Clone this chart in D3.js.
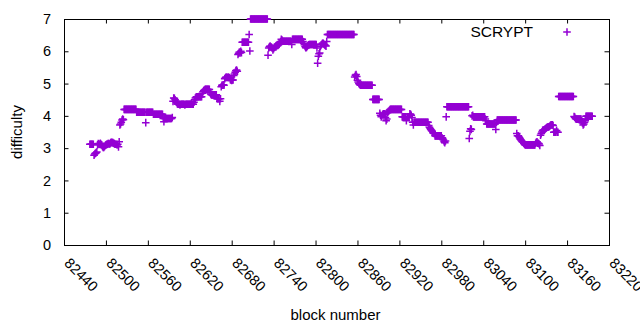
<!DOCTYPE html>
<html>
<head>
<meta charset="utf-8">
<script src="https://cdn.jsdelivr.net/npm/d3@7"></script>
<style>
  html, body { margin: 0; padding: 0; background: #fff; }
  svg { display: block; font-family: "Liberation Sans", Arial, sans-serif; }
</style>
</head>
<body>
<svg id="chart" width="640" height="330"></svg>
<script>
// ---- data (difficulty per block) ----
const seriesName = "SCRYPT";
const xTicks = [82440, 82500, 82560, 82620, 82680, 82740, 82800, 82860, 82920, 82980, 83040, 83100, 83160, 83220];
const yTicks = [0, 1, 2, 3, 4, 5, 6, 7];
const xLabel = "block number";
const yLabel = "difficulty";

// first block of each consecutive chunk
const chunkStart = [82477, 82526, 82544, 82568, 82582, 82596, 82602, 82626, 82665, 82695,
                    82707, 82732, 82754, 82767, 82782, 82802, 82817, 82856, 82864, 82882,
                    82892, 82907, 82924, 82935, 82941, 82962, 82971, 82981, 82988, 83020,
                    83026, 83043, 83060, 83088, 83100, 83115, 83122, 83141, 83148, 83170, 83187];
// difficulty of each block in the chunk
const chunkDifficulty = [
  [3.12,3.12,3.12,3.12,3.12,3.12, 2.78,2.82,2.84,2.86,2.88,
   3.10,3.14,3.12,3.12,3.15,3.12,3.10,3.05,3.02,3.02,
   3.05,3.08,3.10,3.12,3.12,3.14,3.14,3.13,3.14,3.17,3.18,3.17,3.17,3.15,3.14,3.12,3.12,3.12,3.10,3.12,3.04,3.20,
   3.72,3.75,3.80,3.87,3.90,3.88],
  [4.20,4.20,4.20,4.20,4.20,4.20,4.20,4.20,4.20,4.20,4.20,4.20,4.20,4.20,4.20,4.20,4.20,4.20],
  [4.11,4.11,4.11,4.11,4.11,4.11,4.11,4.11,4.11,4.11,4.11,4.11,4.11,3.79,4.11,4.11,4.11,4.11,4.11,4.11,4.11,4.11,4.11,4.11],
  [4.05,4.05,4.05,4.05,4.05,4.05,4.05,4.05,4.05,4.05,4.05,4.05,4.05,4.05],
  [3.92,3.82,3.92,3.92,3.92,3.92,3.92,3.92,3.92,3.92,3.92,3.92,3.92,3.95],
  [4.45,4.55,4.54,4.50,4.45,4.42],
  [4.38,4.36,4.36,4.36,4.34,4.36,4.36,4.36,4.36,4.36,4.36,4.34,4.36,4.36,4.36,4.36,4.36,4.36,4.36,4.36,4.38,4.36,4.36,4.36],
  [4.42,4.50,4.55,4.58, 4.59,4.59,4.59,4.59,4.59,4.59,4.59,4.59, 4.70,4.75,4.78,4.80,
   4.82,4.82,4.82,4.82,4.82,4.82,4.82, 4.72,4.68, 4.65,4.65,4.65,4.65,4.65,4.65,4.65,4.65,
   4.53,4.53,4.53,4.53,4.45,4.53],
  [4.90,4.95,4.95,4.96,4.95, 5.15,5.18,5.20,5.19,5.19,5.20,5.18,5.19,5.12,5.11,5.10,5.11,5.11,
   5.25,5.30,5.35,5.40,5.42,5.38, 5.90,5.94,5.98,5.95,6.00,5.96],
  [6.28,6.28,6.28,6.28,6.28,6.28,6.28,6.28,6.28,6.28, 6.52,6.01],
  [7.00,7.00,7.00,7.00,7.00,7.00,7.00,7.00,7.00,7.00,7.00,7.00,7.00,7.00,7.00,7.00,7.00,7.00,7.00,7.00,7.00,7.00,7.00,7.00,7.00],
  [5.88, 6.10,6.14,6.16,6.14,6.12,6.10,6.04,6.08,6.12,6.14,6.16,6.18,6.19,6.18,6.20,6.22, 6.25,6.30,6.37,6.35,6.32],
  [6.31,6.31,6.31,6.31,6.31,6.31,6.31,6.31,6.31,6.31,6.31,6.31,6.21],
  [6.37,6.37,6.37,6.37,6.37,6.37,6.37,6.37,6.37,6.37,6.37,6.37,6.37,6.37,6.37],
  [6.30,6.25,6.20,6.15,6.11,6.12,6.15,6.18,6.20, 6.21,6.21,6.21,6.21,6.21,6.21,6.21,6.21,6.21,6.21,6.21],
  [6.10,5.63,5.85,5.92,5.95,6.15,6.20,6.22,6.25,6.25,6.22,6.20,6.18,6.16,6.30],
  [6.52,6.52,6.52,6.52,6.52,6.52,6.52,6.52,6.52,6.52,6.52,6.52,6.52,6.52,6.52,6.52,6.52,6.52,6.52,6.52,
   6.52,6.52,6.52,6.52,6.52,6.52,6.52,6.52,6.52,6.52,6.52,6.52,6.52,6.52,6.52,6.52,6.52,6.52,6.52],
  [5.20,5.26,5.28,5.22,5.10,5.05,5.00,4.98],
  [4.95,4.95,4.95,4.95,4.95,4.95,4.95,4.95,4.95,4.95,4.95,4.95,4.95,4.95,4.95,4.95,4.95,4.95],
  [4.51,4.51,4.51,4.51,4.51,4.51,4.51,4.51,4.51,4.51],
  [4.08,4.02,3.97,4.00,4.04,4.06,4.05,4.06,3.95,3.85,3.90,4.10,4.13,4.15,4.18],
  [4.20,4.20,4.20,4.20,4.20,4.20,4.20,4.20,4.20,4.20,4.20,4.20,4.20,4.20,4.20,4.20,4.20],
  [3.97,3.97,3.97,3.97,3.97,3.97,3.85,3.97,3.97,3.97,3.97],
  [4.06,4.05,4.02,3.95,3.80,3.72],
  [3.80,3.80,3.80,3.80,3.80,3.80,3.80,3.80,3.80,3.80,3.80,3.80,3.80,3.80,3.80,3.80,3.80,3.80,3.80,3.80,3.80],
  [3.70,3.65,3.61,3.58,3.55,3.52,3.48,3.46,3.45],
  [3.38,3.38,3.38,3.38,3.38,3.38,3.38,3.38,3.38,3.38],
  [3.32,3.28,3.25,3.20,3.17,3.22,3.97],
  [4.28,4.28,4.28,4.28,4.28,4.28,4.28,4.28,4.28,4.28,4.28,4.28,4.28,4.28,4.28,4.28,
   4.28,4.28,4.28,4.28,4.28,4.28,4.28,4.28,4.28,4.28,4.28,4.28,4.28,4.28,4.28,4.28],
  [3.30,3.52,3.60,3.58,4.00,4.02],
  [3.97,3.97,3.97,3.97,3.97,3.97,3.97,3.97,3.97,3.97,3.97,3.97,3.97,3.97,3.97,3.97,3.97],
  [3.90,3.85, 3.75,3.75,3.75,3.75,3.75,3.75,3.75,3.75,3.75,3.75,3.75,3.75,3.75, 3.58,3.80],
  [3.87,3.87,3.87,3.87,3.87,3.87,3.87,3.87,3.87,3.87,3.87,3.87,3.87,3.87,
   3.87,3.87,3.87,3.87,3.87,3.87,3.87,3.87,3.87,3.87,3.87,3.87,3.87,3.87],
  [3.45,3.38,3.38,3.36,3.32,3.28,3.25,3.22,3.20,3.18,3.15,3.12],
  [3.10,3.10,3.10,3.10,3.10,3.10,3.10,3.10,3.10,3.10,3.10,3.10,3.10,3.10,3.10],
  [3.15,3.18,3.20,3.15,3.15,3.13,3.08],
  [3.40,3.45,3.50,3.55,3.56,3.56,3.58,3.60,3.62,3.64,3.65,3.66,3.66,3.68,3.70,3.72,3.72,3.72,3.70],
  [3.49,3.49,3.49,3.49,3.55,3.49,3.49],
  [4.60,4.60,4.60,4.60,4.60,4.60,4.60,4.60,4.60,4.60,4.60,4.60,4.60,4.60,4.60,4.60,4.60,4.60,4.60,4.60,4.60,4.60],
  [3.98,3.96,3.92,3.90,3.90,3.90,3.90,3.90,3.90,3.90,3.90,3.85,3.78,3.72,3.75,3.80,3.85],
  [3.99,3.99,3.99,3.99,3.99,3.99,3.99,3.99,3.99,3.99]
];

// ---- build point table ----
const points = [];
chunkStart.forEach((start, i) => {
  chunkDifficulty[i].forEach((v, j) => points.push({ block: start + j, difficulty: v }));
});

// ---- layout ----
const svg = d3.select("#chart");
const pLeft = 64, pRight = 609, pTop = 19, pBottom = 245;
const color = "#9400d3";
const tickLen = 4.5;

const x = d3.scaleLinear().domain([82440, 83220]).range([pLeft, pRight]);
const y = d3.scaleLinear().domain([0, 7]).range([pBottom, pTop]);

// axes (gnuplot style: inward ticks on all four sides)
const gx = svg.append("g").attr("transform", `translate(0,${pBottom})`)
  .call(d3.axisBottom(x).tickValues(xTicks).tickFormat(d3.format("d")).tickSizeInner(-tickLen).tickSizeOuter(0));
gx.select(".domain").remove();
gx.selectAll("text")
  .attr("x", 0).attr("y", 0).attr("dy", 0)
  .attr("text-anchor", "start")
  .attr("transform", "translate(-1,19) rotate(45)")
  .style("font-size", "14.5px").attr("fill", "#000");

const gxt = svg.append("g").attr("transform", `translate(0,${pTop})`)
  .call(d3.axisTop(x).tickValues(xTicks).tickFormat("").tickSizeInner(-tickLen).tickSizeOuter(0));
gxt.select(".domain").remove();

const gy = svg.append("g").attr("transform", `translate(${pLeft},0)`)
  .call(d3.axisLeft(y).tickValues(yTicks).tickFormat(d3.format("d")).tickSizeInner(-tickLen).tickSizeOuter(0).tickPadding(13));
gy.select(".domain").remove();
gy.selectAll("text").style("font-size", "14.5px").attr("fill", "#000");

const gyr = svg.append("g").attr("transform", `translate(${pRight},0)`)
  .call(d3.axisRight(y).tickValues(yTicks).tickFormat("").tickSizeInner(-tickLen).tickSizeOuter(0));
gyr.select(".domain").remove();

svg.selectAll(".tick line").attr("stroke", "#000").attr("stroke-width", 1);
svg.selectAll(".tick text").attr("font-family", "Liberation Sans, Arial, sans-serif");

// border
svg.append("rect")
  .attr("x", pLeft + 0.5).attr("y", pTop + 0.5)
  .attr("width", pRight - pLeft).attr("height", pBottom - pTop)
  .attr("fill", "none").attr("stroke", "#000").attr("stroke-width", 1);

// axis titles
svg.append("text")
  .attr("x", (pLeft + pRight) / 2 - 1).attr("y", 320)
  .attr("text-anchor", "middle")
  .style("font-size", "15px")
  .text(xLabel);

svg.append("text")
  .attr("transform", `translate(22,${(pTop + pBottom) / 2}) rotate(-90)`)
  .attr("text-anchor", "middle")
  .style("font-size", "15px")
  .text(yLabel);

// points ('+' markers)
const plus = "M-3.8,0H3.8M0,-3.8V3.8";
svg.append("g").selectAll("path")
  .data(points)
  .join("path")
  .attr("transform", d => `translate(${x(d.block)},${y(d.difficulty)})`)
  .attr("d", plus)
  .attr("fill", "none")
  .attr("stroke", color)
  .attr("stroke-width", 1.5);

// legend
svg.append("text")
  .attr("x", 533).attr("y", 37)
  .attr("text-anchor", "end")
  .style("font-size", "15.5px")
  .text(seriesName);
svg.append("path")
  .attr("transform", "translate(567,32)")
  .attr("d", plus)
  .attr("fill", "none")
  .attr("stroke", color)
  .attr("stroke-width", 1.5);
</script>
</body>
</html>
